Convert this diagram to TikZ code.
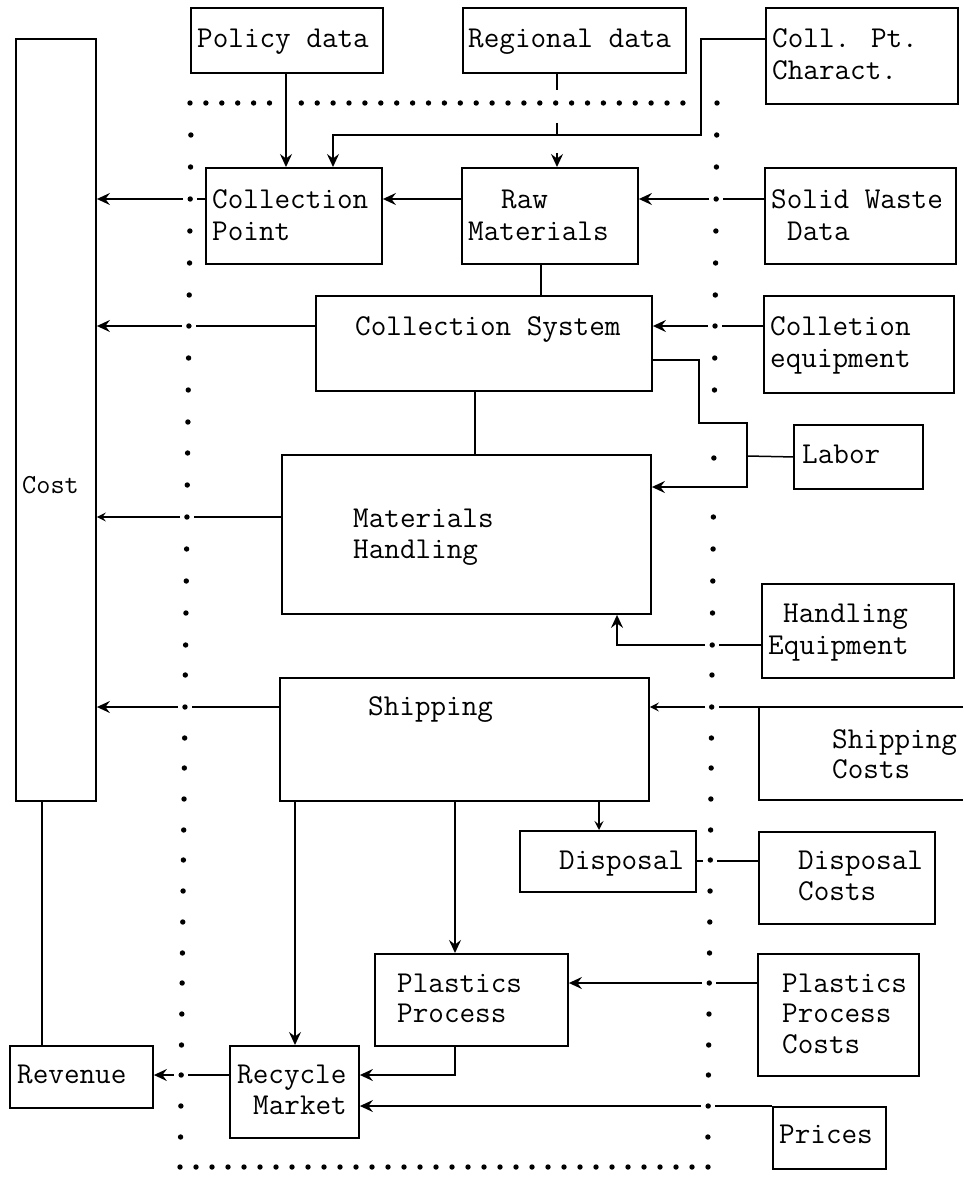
\documentclass[tikz,border=0pt]{standalone}
\usepackage{fontspec}
\usetikzlibrary{arrows.meta}
\begin{document}
\begin{tikzpicture}[x=1pt,y=-1pt,
  box/.style={draw, line width=1.9pt, inner sep=0pt, anchor=north west},
  txt/.style={anchor=base west, inner sep=0pt, font=\ttfamily\fontsize{30.3}{32}\selectfont},
  costtxt/.style={anchor=base west, inner sep=0pt, font=\ttfamily\fontsize{27.5}{30}\selectfont},
  con/.style={line width=1.5pt},
  arr/.style={con, -{Stealth[length=13pt,width=12pt,inset=4.5pt]}},
  sarr/.style={con, -{Stealth[length=9pt,width=9pt,inset=3.5pt]}},
  dot/.style={fill=black}]
\useasboundingbox (0,0) rectangle (963,1193);
% ---------- boxes ----------
\node[box, minimum width=80pt,  minimum height=762pt] (cost)     at (15,38) {};
\node[box, minimum width=192pt, minimum height=65pt]  (policy)   at (190,7) {};
\node[box, minimum width=223pt, minimum height=65pt]  (regional) at (462,7) {};
\node[box, minimum width=192pt, minimum height=96pt]  (collpt)   at (765,7) {};
\node[box, minimum width=176pt, minimum height=96pt]  (cp)       at (205,167) {};
\node[box, minimum width=176pt, minimum height=96pt]  (raw)      at (461,167) {};
\node[box, minimum width=191pt, minimum height=96pt]  (sw)       at (764,167) {};
\node[box, minimum width=336pt, minimum height=95pt]  (cs)       at (315,295) {};
\node[box, minimum width=190pt, minimum height=97pt]  (ce)       at (763,295) {};
\node[box, minimum width=129pt, minimum height=64pt]  (labor)    at (793,424) {};
\node[box, minimum width=369pt, minimum height=159pt] (mh)       at (281,454) {};
\node[box, minimum width=192pt, minimum height=94pt]  (he)       at (761,583) {};
\node[box, minimum width=369pt, minimum height=123pt] (ship)     at (279,677) {};
\node[box, minimum width=176pt, minimum height=61pt]  (disp)     at (519,830) {};
\node[box, minimum width=176pt, minimum height=92pt]  (dc)       at (758,831) {};
\node[box, minimum width=193pt, minimum height=92pt]  (pp)       at (374,953) {};
\node[box, minimum width=161pt, minimum height=122pt] (ppc)      at (757,953) {};
\node[box, minimum width=129pt, minimum height=92pt]  (rm)       at (229,1045) {};
\node[box, minimum width=143pt, minimum height=62pt]  (rev)      at (9,1045) {};
\node[box, minimum width=113pt, minimum height=62pt]  (prices)   at (772,1106) {};
% open box "Shipping Costs" (runs off the right edge)
\coordinate (scNW) at (759,707);
\draw[line width=1.9pt] (963,707) -- (scNW) -- (759,800) -- (963,800);
% ---------- texts ----------
\node[txt] (t1)  at (197,48)  {Policy data};
\node[txt] (t2)  at (468,48)  {Regional data};
\node[txt] (t3)  at (772,48)  {Coll. Pt.};
\node[txt] (t4)  at (772,80)  {Charact.};
\node[txt] (t5)  at (212,208) {Collection};
\node[txt] (t6)  at (212,240) {Point};
\node[txt] (t7)  at (501,208) {Raw};
\node[txt] (t8)  at (468,240) {Materials};
\node[txt] (t9)  at (771,208) {Solid Waste};
\node[txt] (t10) at (787,240) {Data};
\node[txt] (t11) at (355,335) {Collection System};
\node[txt] (t12) at (770,335) {Colletion};
\node[txt] (t13) at (770,367) {equipment};
\node[txt] (t14) at (802,463) {Labor};
\node[txt] (t15) at (353,527) {Materials};
\node[txt] (t16) at (353,558) {Handling};
\node[txt] (t17) at (783,622) {Handling};
\node[txt] (t18) at (768,654) {Equipment};
\node[txt] (t19) at (368,715) {Shipping};
\node[txt] (t20) at (832,748) {Shipping};
\node[txt] (t21) at (832,778) {Costs};
\node[txt] (t22) at (559,869) {Disposal};
\node[txt] (t23) at (798,869) {Disposal};
\node[txt] (t24) at (798,900) {Costs};
\node[txt] (t25) at (397,992) {Plastics};
\node[txt] (t26) at (397,1022) {Process};
\node[txt] (t27) at (782,992) {Plastics};
\node[txt] (t28) at (782,1022) {Process};
\node[txt] (t29) at (782,1053) {Costs};
\node[txt] (t30) at (237,1083) {Recycle};
\node[txt] (t31) at (253,1114) {Market};
\node[txt] (t32) at (17,1083)  {Revenue};
\node[txt] (t33) at (779,1143) {Prices};
\node[costtxt] (t34) at (22,493) {Cost};
% ---------- dotted boundary ----------
\foreach \k in {0,...,31} {\ifnum\k=6\else\fill[dot] ({190+15.9*\k},103) circle (2.7pt);\fi}
\foreach \k in {0,...,33} {\fill[dot] ({180+16*\k},1167) circle (2.7pt);}
\foreach \y in {135,167,199,231,263,295,326,358,390,422,453,485,517,549,581,613,645,675,707,738,768,799,830,860,891,922,953,983,1014,1045,1075,1106,1137}
  {\fill[dot] ({191.2-0.0103*(\y-103)},\y) circle (2.7pt);}
\foreach \y in {103,135,167,199,231,263,295,326,358,390,458,517,549,581,613,645,675,707,738,768,799,830,860,891,922,953,983,1014,1045,1075,1106,1137}
  {\fill[dot] ({717-0.0088*(\y-103)},\y) circle (2.7pt);}
% ---------- connectors ----------
% top inputs
\draw[arr] (policy.south -| 286,0) -- (cp.north -| 286,0);
\coordinate (k1) at (701,39);
\coordinate (k2) at (701,135);
\coordinate (k3) at (333,135);
\draw[arr] (collpt.west |- k1) -- (k1) -- (k2) -- (k3) -- (cp.north -| k3);
\draw[con] (regional.south -| 557,0) -- (557,90);
\draw[con] (557,123) -- (557,135);
\draw[arr] (557,153) -- (raw.north -| 557,0);
% row y=199
\draw[con] (cp.west |- 0,199) -- (197,199);
\draw[arr] (183,199) -- (cost.east |- 0,199);
\draw[arr] (raw.west |- 0,199) -- (cp.east |- 0,199);
\draw[con] (sw.west |- 0,199) -- (723,199);
\draw[arr] (709,199) -- (raw.east |- 0,199);
\draw[con] (raw.south -| 541,0) -- (cs.north -| 541,0);
% row y=326
\draw[con] (cs.west |- 0,326) -- (196,326);
\draw[arr] (182,326) -- (cost.east |- 0,326);
\draw[con] (ce.west |- 0,326) -- (722,326);
\draw[arr] (708,326) -- (cs.east |- 0,326);
% labor loop
\coordinate (j) at (747,456);
\draw[arr] (cs.east |- 0,360) -- (699,360) -- (699,423) -- (747,423) -- (747,487) -- (mh.east |- 0,487);
\draw[con] (labor.west) -- (j);
\draw[con] (cs.south -| 475,0) -- (mh.north -| 475,0);
% materials handling
\draw[con] (mh.west |- 0,517) -- (194,517);
\draw[sarr] (180,517) -- (cost.east |- 0,517);
\draw[con] (he.west |- 0,645) -- (719,645);
\draw[arr] (705,645) -- (617,645) -- (mh.south -| 617,0);
% shipping
\draw[con] (ship.west |- 0,707) -- (192,707);
\draw[arr] (178,707) -- (cost.east |- 0,707);
\draw[con] (scNW) -- (719,707);
\draw[sarr] (705,707) -- (ship.east |- 0,707);
\draw[sarr] (ship.south -| 599,0) -- (disp.north -| 599,0);
\draw[arr] (ship.south -| 455,0) -- (pp.north -| 455,0);
\draw[arr] (ship.south -| 295,0) -- (rm.north -| 295,0);
% disposal
\draw[con] (dc.west |- 0,861) -- (717,861);
\draw[con] (703,861) -- (disp.east |- 0,861);
% plastics
\draw[con] (ppc.west |- 0,983) -- (716,983);
\draw[arr] (702,983) -- (pp.east |- 0,983);
\draw[arr] (pp.south -| 455,0) -- (455,1075) -- (rm.east |- 0,1075);
% recycle market
\draw[con] (rm.west |- 0,1075) -- (188,1075);
\draw[arr] (174,1075) -- (rev.east |- 0,1075);
\draw[con] (prices.north west) -- (715,1106);
\draw[arr] (701,1106) -- (rm.east |- 0,1106);
% cost - revenue
\draw[con] (cost.south -| 42,0) -- (rev.north -| 42,0);
\end{tikzpicture}
\end{document}
